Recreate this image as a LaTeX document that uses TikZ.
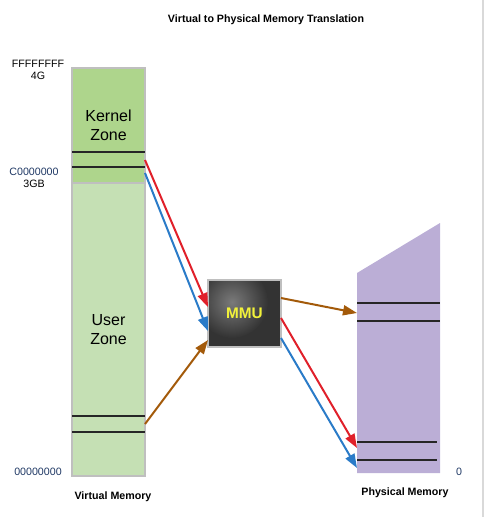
\documentclass[tikz,border=0pt]{standalone}
\usepackage{fontspec}
\setmainfont{Liberation Sans}
\usetikzlibrary{arrows.meta}
\definecolor{kgreen}{HTML}{AED58C}
\definecolor{ugreen}{HTML}{C5E0B4}
\definecolor{purp}{HTML}{BBAED6}
\definecolor{edgegray}{HTML}{BFBFBF}
\definecolor{framegray}{HTML}{D9D9D9}
\definecolor{ared}{HTML}{E0202A}
\definecolor{ablue}{HTML}{2A7BC8}
\definecolor{abrown}{HTML}{A35A0A}
\definecolor{navy}{HTML}{1F3864}
\definecolor{mmudark}{HTML}{333333}
\definecolor{mmulight}{HTML}{7A7A7A}
\definecolor{mmutext}{HTML}{F2F23A}
\tikzset{
  zonebox/.style={draw=edgegray, line width=0.8pt, inner sep=0pt, minimum width=54.75pt, align=center, font=\fontsize{12}{14}\selectfont},
  sepline/.style={draw=black!85, line width=0.8pt},
  addr/.style={font=\fontsize{8}{9}\selectfont, align=center, inner sep=0pt},
  caption/.style={font=\bfseries\fontsize{8}{9.5}\selectfont, inner sep=0pt},
  conn/.style={line width=1.5pt, -{Triangle[length=10.5pt,width=7.5pt]}},
}
\begin{document}
\begin{tikzpicture}[x=0.75pt,y=-0.75pt]
\useasboundingbox (0,0) rectangle (485,517);
\draw[framegray, line width=1pt] (483,0) -- (483,517);

% title
\node[caption] (title) at (266,20) {Virtual to Physical Memory Translation};

% virtual memory
\node[zonebox, fill=kgreen, minimum height=86.25pt] (kz) at (108.5,125.5) {Kernel\\Zone};
\node[zonebox, fill=ugreen, minimum height=219.75pt] (uz) at (108.5,329.5) {User\\Zone};
\draw[sepline] (72,152) -- (145,152);
\draw[sepline] (72,167) -- (145,167);
\draw[sepline] (72,416) -- (145,416);
\draw[sepline] (72,432) -- (145,432);

\node[addr] (a1) at (38,70) {FFFFFFFF\\4G};
\node[addr] (a2) at (34,178) {\textcolor{navy}{C0000000}\\3GB};
\node[addr, text=navy] (a3) at (38,472) {00000000};
\node[caption] (vmcap) at (113,497) {Virtual Memory};

% physical memory
\fill[purp] (357,273) -- (440,223) -- (440,473) -- (357,473) -- cycle;
\draw[sepline] (357,303) -- (440,303);
\draw[sepline] (357,321) -- (440,321);
\draw[sepline] (357,442) -- (437,442);
\draw[sepline] (357,460) -- (437,460);
\node[addr, text=navy] (a4) at (459,472) {0};
\node[caption] (pmcap) at (405,493) {Physical Memory};

% MMU
\fill[mmudark] (208,280) rectangle (281,347);
\begin{scope}
  \clip (208,280) rectangle (281,347);
  \shade[inner color=mmulight, outer color=mmudark] (232,302) circle (36);
\end{scope}
\node[draw=edgegray, line width=1pt, minimum width=54.75pt, minimum height=50.25pt, inner sep=0pt,
      text=mmutext, font=\bfseries\fontsize{11.5}{13}\selectfont] (mmu) at (244.5,313.5) {MMU};

% connector end points
\coordinate (vr) at (145,160);
\coordinate (vb) at (145,173);
\coordinate (vu) at (145,424);
\coordinate (mr) at (208,307);
\coordinate (mb) at (208,331);
\coordinate (mu) at (208,340);
\coordinate (mo1) at (281,298);
\coordinate (mo2) at (281,318);
\coordinate (mo3) at (281,338);
\coordinate (pu) at (357,313);
\coordinate (pr) at (357,448);
\coordinate (pb) at (357,468);

\draw[conn, ared] (vr) -- (mr);
\draw[conn, ablue] (vb) -- (mb);
\draw[conn, abrown] (vu) -- (mu);
\draw[conn, abrown] (mo1) -- (pu);
\draw[conn, ared] (mo2) -- (pr);
\draw[conn, ablue] (mo3) -- (pb);
\end{tikzpicture}
\end{document}
